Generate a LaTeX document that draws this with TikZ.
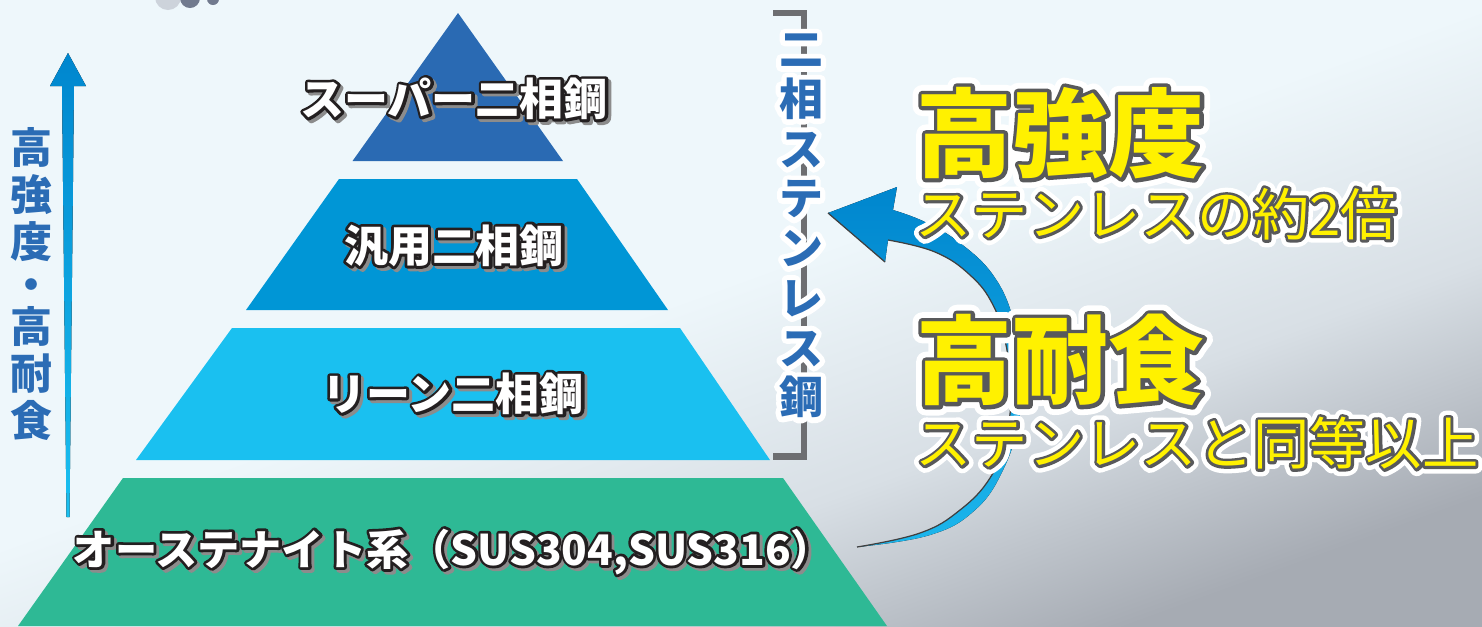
\documentclass[tikz,border=0pt]{standalone}
\usepackage{fontspec}
\usepackage{tikz}

\newfontfamily\jfont{Noto Sans CJK JP}
\newfontfamily\jlineT{Noto Sans CJK JP}[FakeBold=13]
\newfontfamily\jlineS{Noto Sans CJK JP}[FakeBold=10]
\newfontfamily\jhaloS{Noto Sans CJK JP}[FakeBold=26]
\newfontfamily\jlineL{Noto Sans CJK JP}[FakeBold=8]
\newfontfamily\jhaloL{Noto Sans CJK JP}[FakeBold=20]
\newfontfamily\jhaloV{Noto Sans CJK JP}[FakeBold=24]

\definecolor{bgTop}{HTML}{EEF7FB}
\definecolor{bgMid}{HTML}{D8DFE5}
\definecolor{bgGray}{HTML}{A6ABB3}
\definecolor{superBlue}{HTML}{2A6AB3}
\definecolor{genBlue}{HTML}{0096D6}
\definecolor{leanBlue}{HTML}{1AC0F0}
\definecolor{austGreen}{HTML}{2EB995}
\definecolor{labelBlue}{HTML}{2B6CB5}
\definecolor{bracketGray}{HTML}{6D6E71}
\definecolor{hiYellow}{HTML}{FFF100}
\definecolor{lineGray}{HTML}{58595B}
\definecolor{tierLine}{HTML}{231F20}
\definecolor{tierShadow}{HTML}{8C8C8C}
\definecolor{arrowTop}{HTML}{0086CE}
\definecolor{arrowBot}{HTML}{1CB6EC}
\definecolor{smokeLight}{HTML}{C5CAD4}
\definecolor{smokeDark}{HTML}{525B73}

\pgfdeclareverticalshading{bgfade}{100bp}{color(0bp)=(bgGray); color(25bp)=(bgGray); color(38bp)=(bgMid); color(52bp)=(bgTop); color(100bp)=(bgTop)}

% outlined texts
\newcommand{\tierText}[1]{\rlap{\kern0.8pt\raisebox{-0.8pt}{\jlineT\color{tierShadow}#1}}\rlap{\jlineT\color{tierLine}#1}{\jfont\color{white}#1}}
\newcommand{\callText}[1]{\rlap{\jhaloL\color{white}#1}\rlap{\jlineL\color{lineGray}#1}{\jfont\color{hiYellow}#1}}
\newcommand{\subText}[1]{\rlap{\jhaloS\color{white}#1}\rlap{\jlineS\color{lineGray}#1}{\jfont\color{hiYellow}#1}}
\newcommand{\vHalo}[1]{\rlap{\jhaloV\color{white}#1}{\jfont\color{labelBlue}#1}}

\tikzstyle{tierLabel}=[inner sep = 0pt, font = \fontsize{12.5pt}{15pt}\selectfont\jfont\bfseries]
\tikzstyle{callout}=[inner sep = 0pt, anchor = west, font = \fontsize{27.3pt}{30pt}\selectfont\jfont\bfseries]
\tikzstyle{subcall}=[inner sep = 0pt, anchor = west, font = \fontsize{16pt}{19pt}\selectfont\jfont]

\begin{document}
\begin{tikzpicture}[x = 0.01cm, y = -0.01cm, line join = round]
\tikzstyle{bracketLine}=[draw = bracketGray, line width = 1.9pt, line join = miter]
\tikzstyle{leftCaption}=[inner sep = 0pt, align = center, text = labelBlue, font = \fontsize{11.95pt}{13.37pt}\selectfont\jfont\bfseries]
\tikzstyle{vertLabel}=[inner sep = 0pt, align = center, font = \fontsize{12.5pt}{14.14pt}\selectfont\jfont\bfseries]
\useasboundingbox (0,0) rectangle (1482,626);
% background
\fill[bgTop] (0,0) rectangle (1482,626);
\shade[shading = bgfade, shading angle = 20] (0,0) rectangle (1482,626);
\fill[smokeLight, opacity = 0.8] (168,-3) circle (13);
\fill[smokeDark, opacity = 0.8] (190,-2) circle (10);
\fill[smokeDark, opacity = 0.8] (213,-1) circle (6);
% pyramid
\fill[superBlue] (458,13) -- (563,161) -- (352.5,161) -- cycle;
\fill[genBlue] (339,179) -- (577,179) -- (668,310) -- (246,310) -- cycle;
\fill[leanBlue] (232,328) -- (680,328) -- (770,460) -- (136,460) -- cycle;
\fill[austGreen] (123,478) -- (783,478) -- (887,626) -- (18,626) -- cycle;
% left arrow
\fill[top color = arrowTop, bottom color = leanBlue] (68,53) -- (86,86) -- (74,86) -- (69.5,517) -- (66.5,517) -- (62,86) -- (50,86) -- cycle;
\node[leftCaption] (propLbl) at (32,284) {高\\強\\度\\[-1.42pt]・\\[-1.42pt]高\\耐\\食};
% bracket
\draw[bracketLine] (773,13) -- (804,13) -- (804,456.5) -- (773,456.5);
\node[vertLabel] (dssLbl) at (801,226) {\vHalo{二}\\\vHalo{相}\\\vHalo{ス}\\\vHalo{テ}\\\vHalo{ン}\\\vHalo{レ}\\\vHalo{ス}\\\vHalo{鋼}};
% curved arrow
\fill[top color = arrowTop, bottom color = arrowBot]
  plot[smooth, tension = 0.7] coordinates {(857,547) (930,535) (975,510) (1003,470) (1019,420) (1022,370) (1013,318) (993,275) (960,243) (925,222) (893,210)}
  -- (897,187) -- (828,213) -- (885,262) --
  plot[smooth, tension = 0.7] coordinates {(888,240) (935,252) (970,275) (993,305) (1006,345) (1011,395) (1005,440) (990,478) (960,510) (920,533) (857,547)}
  -- cycle;
\draw[black!75, line width = 0.35pt] plot[smooth, tension = 0.7] coordinates {(888,240) (935,252) (970,275) (993,305) (1006,345) (1011,395) (1005,440) (990,478) (960,510) (920,533) (857,547)};
\draw[black!75, line width = 0.35pt] (828,213) -- (885,262);
% tier labels
\node[tierLabel] (superLbl) at (454,100) {\tierText{スーパー二相鋼}};
\node[tierLabel] (genLbl) at (454,247) {\tierText{汎用二相鋼}};
\node[tierLabel] (leanLbl) at (453,395) {\tierText{リーン二相鋼}};
\node[tierLabel, font = \fontsize{12pt}{15pt}\selectfont\jfont\bfseries] (austLbl) at (453,553) {\tierText{オーステナイト系（SUS304,SUS316）}};
% callouts
\node[callout] (strengthLbl) at (916,133) {\callText{高強度}};
\node[subcall] (strengthSub) at (915,214) {\subText{ステンレスの約2倍}};
\node[callout] (corrosionLbl) at (916,360) {\callText{高耐食}};
\node[subcall] (corrosionSub) at (915,443) {\subText{ステンレスと同等以上}};
\end{tikzpicture}
\end{document}
